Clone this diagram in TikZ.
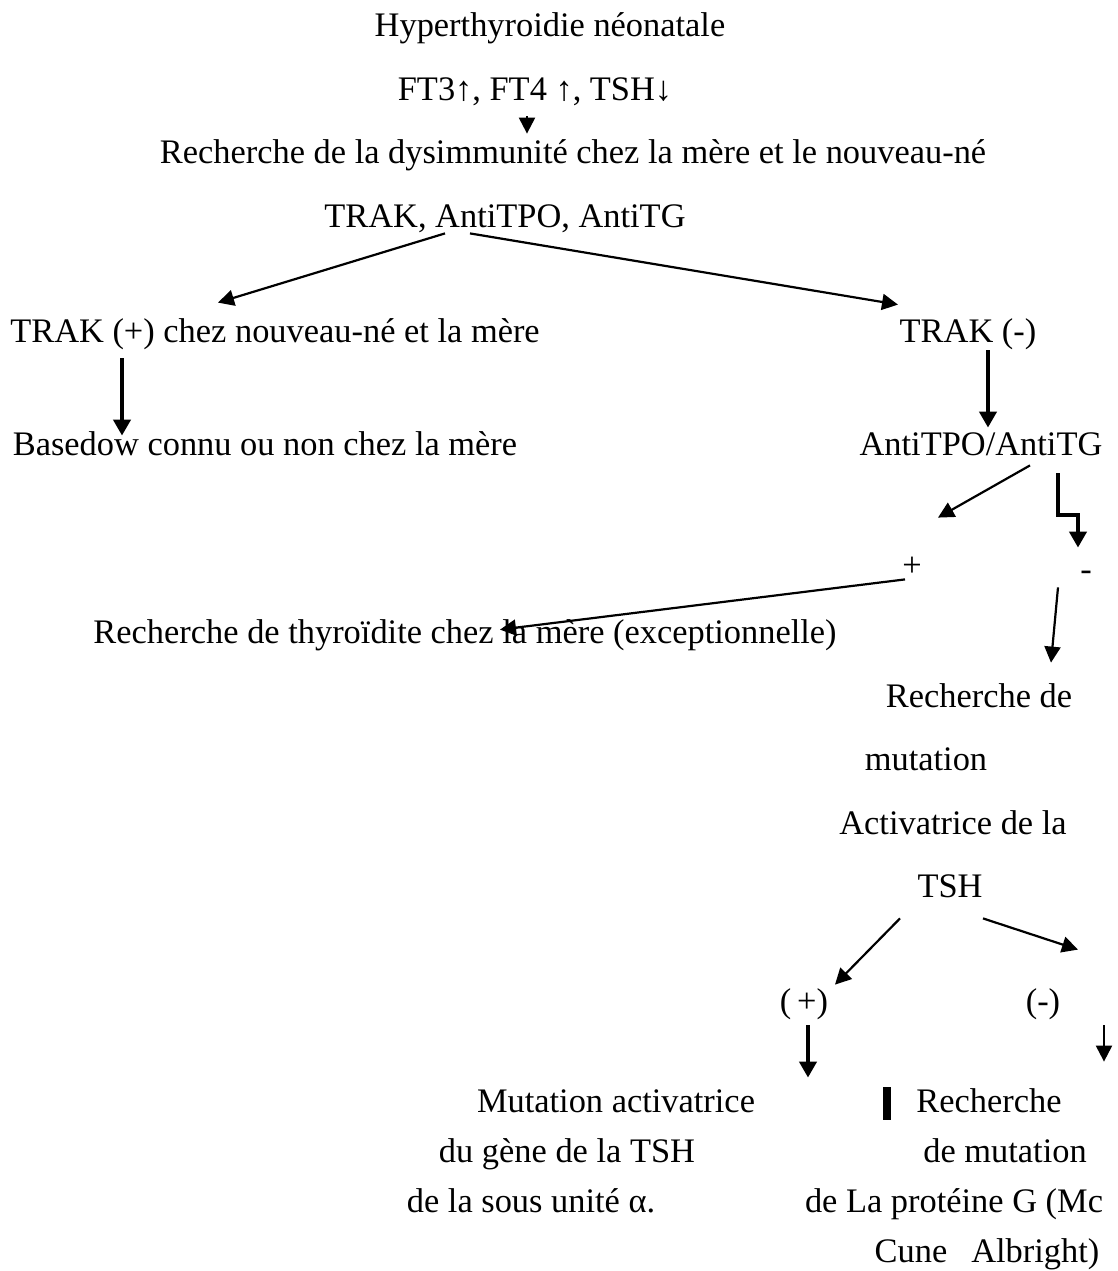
\documentclass[tikz,border=0pt]{standalone}
\usepackage{fontspec}
\setmainfont{Liberation Serif}
\usetikzlibrary{arrows.meta, calc}

\begin{document}
\begin{tikzpicture}[x=0.5pt, y=-0.5pt,
    txt/.style={anchor=base, inner sep=0pt, text height=11pt, text depth=3.5pt, font=\fontsize{17.2}{20}\selectfont},
    arr/.style={-{Triangle[length=8pt,width=8pt]}, line width=1.1pt},
    heavyarr/.style={-{Triangle[length=8pt,width=8.5pt]}, line width=2pt}]
    \useasboundingbox (0,0) rectangle (1118,1271);

    % Top: diagnosis and first tests
    \node[txt] (hyp) at (550,36) {Hyperthyroidie néonatale};
    \node[txt] (ft) at (535,100) {FT3↑, FT4 ↑, TSH↓};
    \node[txt] (dys) at (573,163) {Recherche de la dysimmunité chez la mère et le nouveau-né};
    \node[txt] (trakall) at (505,227) {TRAK, AntiTPO, AntiTG};
    \draw[arr] ($(ft.south)+(-8,9)$) -- ($(dys.north)+(-46,-7)$);

    % TRAK split
    \node[txt] (trakp) at (275,342) {TRAK (+) chez nouveau-né et la mère};
    \node[txt] (trakn) at (968,342) {TRAK (-)};
    \draw[arr] ($(trakall.south)+(-60,-1)$) -- ($(trakp.north)+(-57,-17)$);
    \draw[arr] ($(trakall.south)+(-35,-1)$) -- ($(trakn.north)+(-70,-15)$);

    % Left branch
    \node[txt] (baseb) at (265,455) {Basedow connu ou non chez la mère};
    \draw[heavyarr] ($(trakp.south)+(-153,9)$) -- ($(baseb.north)+(-143,3)$);

    % Right branch: antibodies
    \node[txt] (anti) at (981,455) {AntiTPO/AntiTG};
    \draw[heavyarr] ($(trakn.south)+(20,1)$) -- ($(anti.north)+(7,-5)$);
    \node[txt] (plus) at (912,576) {+};
    \node[txt] (minus) at (1086,580) {-};
    \draw[arr] ($(anti.south)+(49,3)$) -- ($(plus.north)+(26,-36)$);
    \draw[heavyarr] ($(anti.south)+(77,11)$) -- ++(0,42) -| ($(minus.north)+(-8,-10)$);

    % Thyroiditis of the mother
    \node[txt] (thyro) at (465,643) {Recherche de thyroïdite chez la mère (exceptionnelle)};
    \draw[arr] ($(plus.south)+(-7,-4)$) -- ($(thyro.north)+(35,9)$);

    % Search for a TSH mutation
    \node[txt] (rech1) at (979,707) {Recherche de};
    \node[txt] (rech2) at (926,770) {mutation};
    \node[txt] (rech3) at (953,834) {Activatrice de la};
    \node[txt] (tsh) at (950,897) {TSH};
    \draw[arr] ($(minus.south)+(-28,0)$) -- ($(rech1.north)+(72,-22)$);

    % TSH result
    \node[txt] (pp) at (804,1012) {(\,+)};
    \node[txt] (mm) at (1043,1012) {(-)};
    \draw[arr] ($(tsh.south)+(-50,14)$) -- ($(pp.north)+(31,-5)$);
    \draw[arr] ($(tsh.south)+(33,14)$) -- ($(mm.north)+(35,-40)$);

    % Bottom left
    \node[txt] (mut1) at (616,1112) {Mutation activatrice};
    \node[txt] (mut2) at (567,1162) {du gène de la TSH};
    \node[txt] (mut3) at (531,1212) {de la sous unité α.};
    \draw[heavyarr] ($(pp.south)+(4,6)$) -- ($(mut1.north)+(192,-12)$);

    % Bottom right
    \node[txt] (rg1) at (989,1112) {Recherche};
    \node[txt] (rg2) at (1005,1162) {de mutation};
    \node[txt] (rg3) at (954,1212) {de La protéine G (Mc};
    \node[txt] (rg4) at (987,1262) {Cune\hspace{12pt}Albright)};
    \draw[arr] ($(mm.south)+(61,6)$) -- ($(rg1.north)+(115,-28)$);
    \draw[line width=4pt] (887,1087) -- (887,1120);
\end{tikzpicture}
\end{document}
